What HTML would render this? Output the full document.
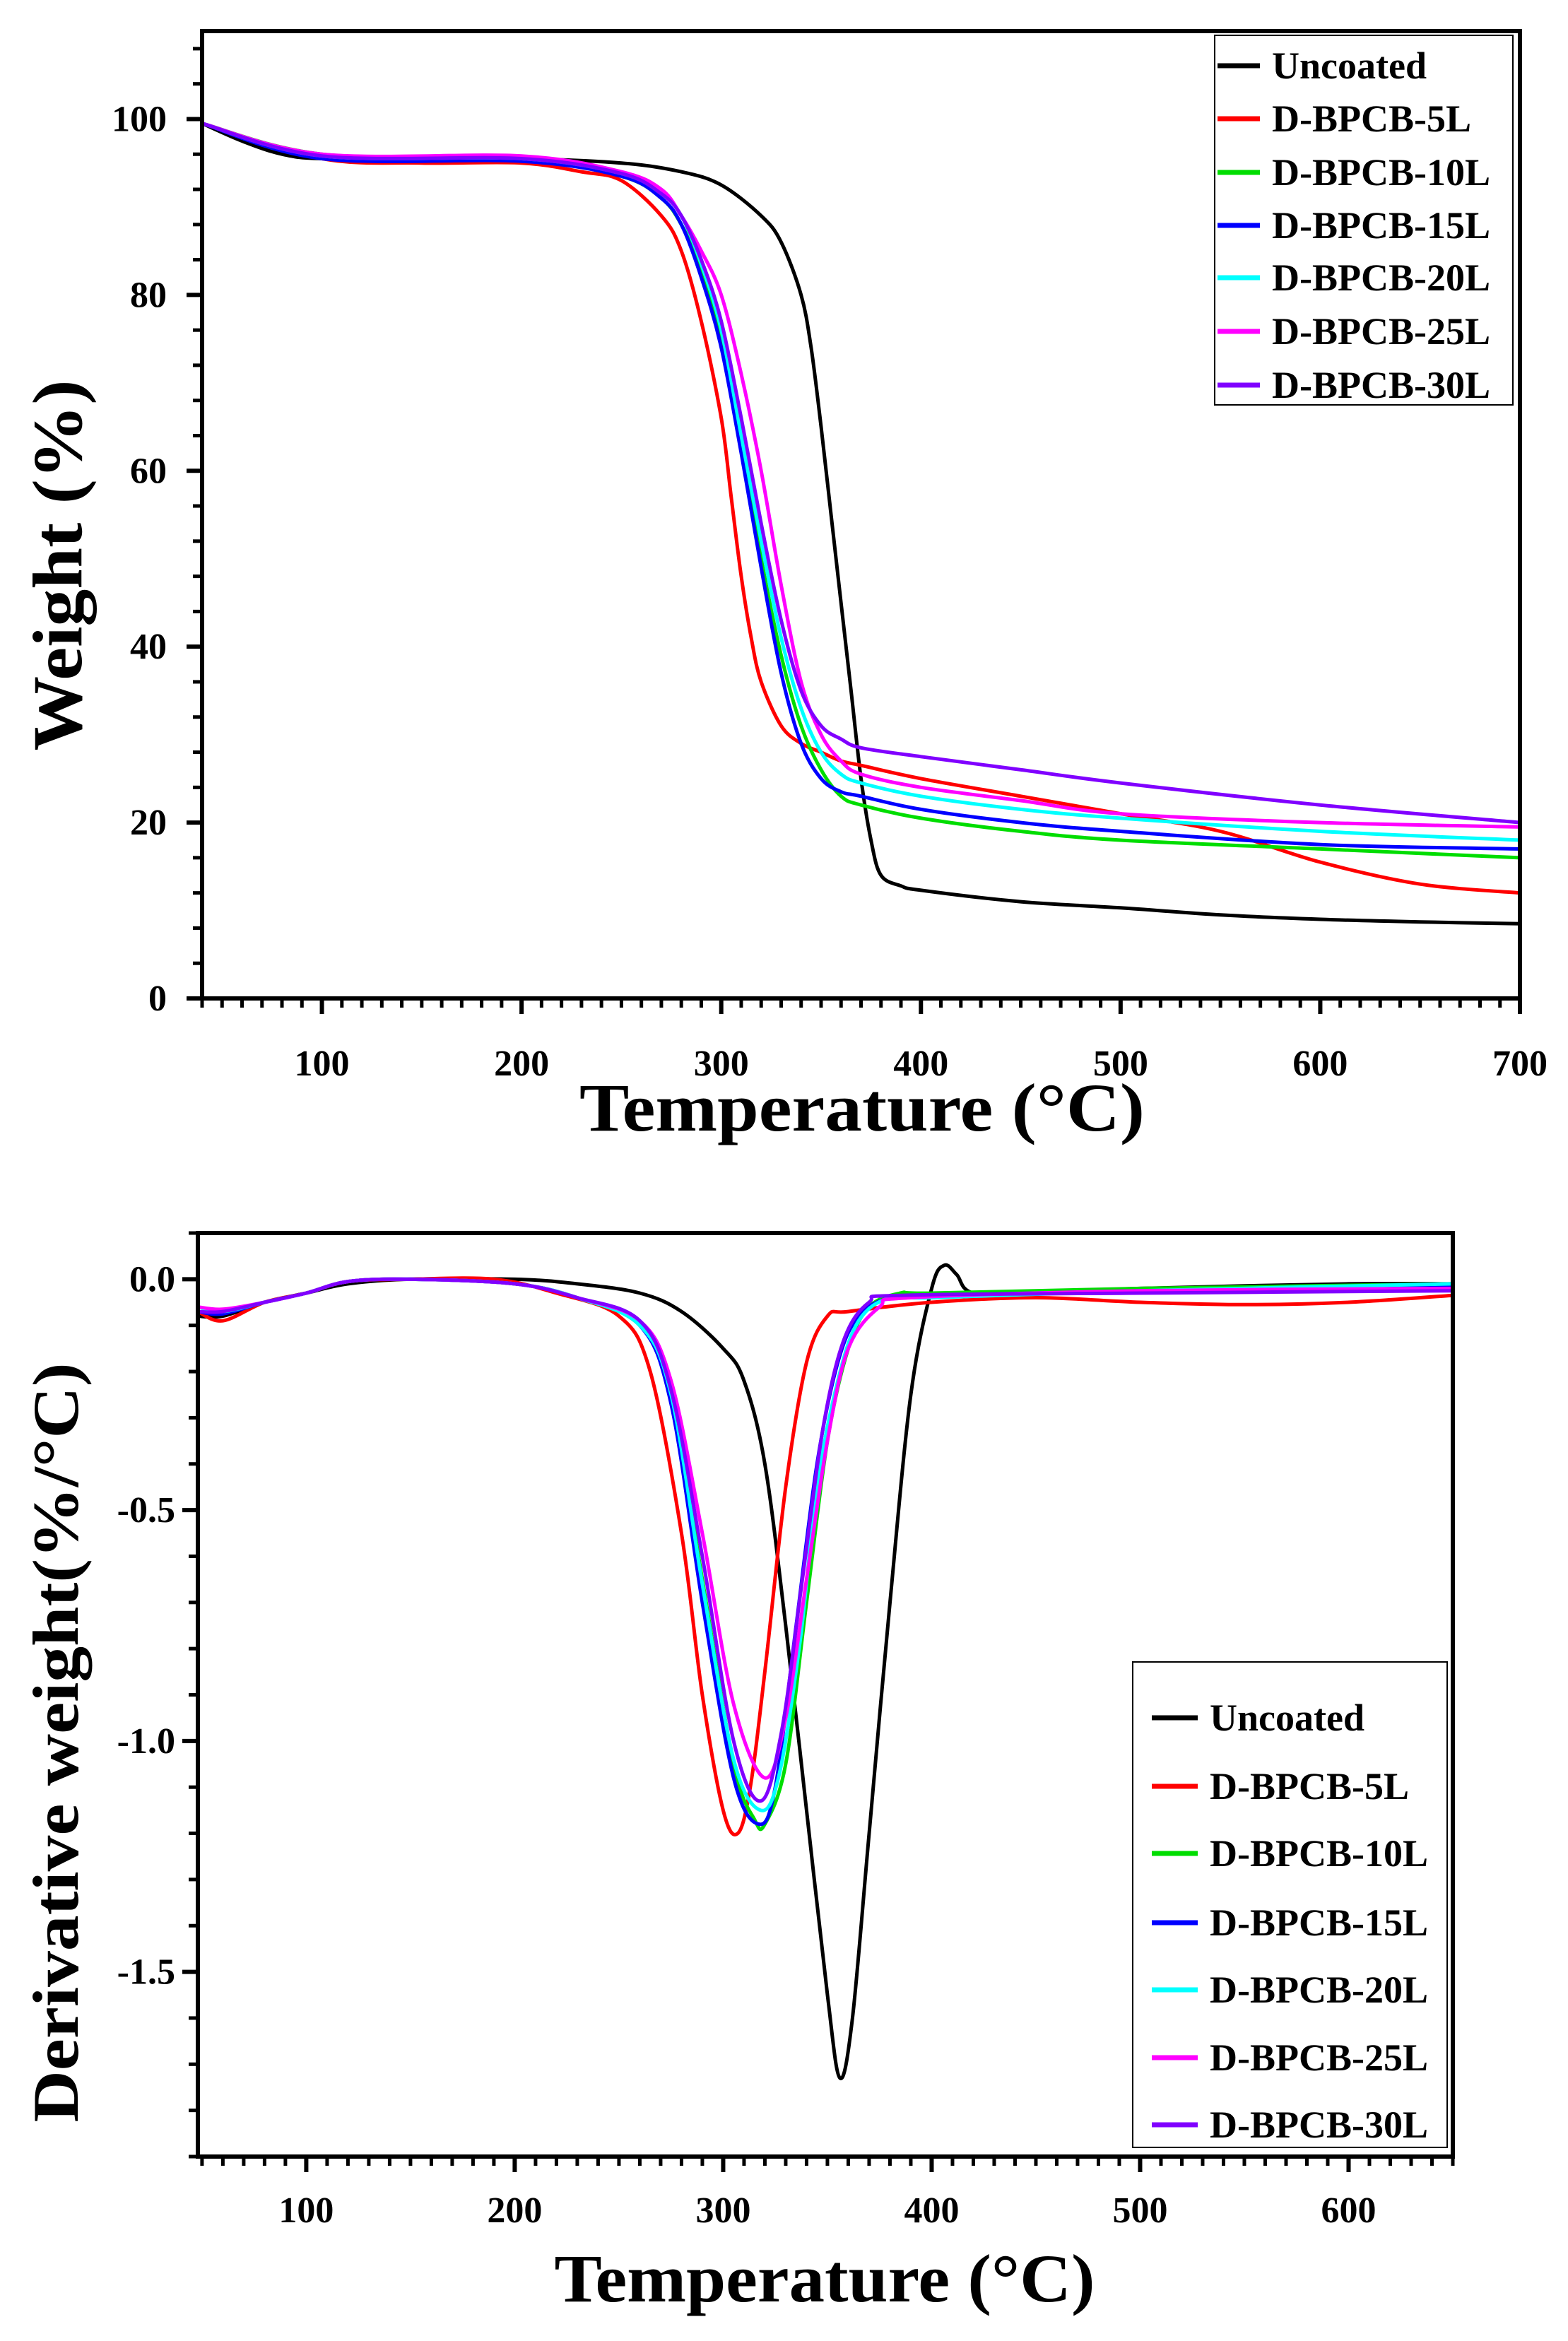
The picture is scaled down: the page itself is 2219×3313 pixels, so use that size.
<!DOCTYPE html>
<html><head><meta charset="utf-8"><style>
html,body{margin:0;padding:0;background:#fff}
svg{display:block}
text{font-family:"Liberation Serif",serif;font-weight:bold;fill:#000}
</style></head><body>
<svg id="svg" width="2219" height="3313" viewBox="0 0 2219 3313" xmlns="http://www.w3.org/2000/svg">
<rect width="2219" height="3313" fill="#fff"/>
<g id="top"></g>
<g id="bot"></g>
</svg>
<script>
const seriesNames = ["Uncoated","D-BPCB-5L","D-BPCB-10L","D-BPCB-15L","D-BPCB-20L","D-BPCB-25L","D-BPCB-30L"];
const seriesColors = ["#000000","#ff0000","#00dd00","#0000ff","#00ffff","#ff00ff","#8000ff"];
// TGA data: [temperature, weight %]
const tgaUncoated = [[40,99.5],[60,97.5],[80,96],[100,95.5],[150,95.5],[200,95.5],[250,95],[280,94],[300,92.5],[320,89],[330,86],[340,80],[345,74],[350,65],[355,55],[360,45],[365,35],[370,25],[375,18],[380,14],[390,12.8],[400,12.3],[450,11],[500,10.3],[550,9.5],[600,9],[650,8.7],[700,8.5]];
const tga5L = [[40,99.5],[100,95.5],[150,95],[200,95],[230,94],[250,93],[270,89],[280,85],[290,77],[300,66],[305,57],[310,48],[315,41],[320,36],[330,31],[340,29],[350,28],[360,27],[370,26.5],[400,25],[450,23],[500,21],[550,19],[600,15.5],[650,13],[700,12]];
const tga10L = [[40,99.5],[100,96],[200,95.5],[250,93.5],[270,91],[280,88],[290,83],[300,75],[310,63],[320,50],[330,39],[340,31],[350,26],[360,23],[370,22],[400,20.5],[450,19],[500,18],[600,17],[700,16]];
const tga15L = [[40,99.5],[100,95.5],[200,95.2],[250,93.5],[270,91],[280,88],[290,82],[300,74],[310,62],[320,49],[330,37],[340,29],[350,25],[360,23.5],[370,23],[400,21.5],[450,20],[500,19],[600,17.5],[700,17]];
const tga20L = [[40,99.5],[100,95.8],[200,95.5],[250,93.8],[270,91.5],[280,89],[290,83.5],[300,76],[310,64],[320,52],[330,41],[340,33],[350,28],[360,25.5],[370,24.5],[400,23],[450,21.5],[500,20.5],[600,19],[700,18]];
const tga25L = [[40,99.5],[100,96],[200,95.8],[250,94],[270,92],[280,89],[290,85],[300,80],[310,71],[320,60],[330,47],[340,36],[350,30],[360,27],[370,25.5],[400,24],[450,22.5],[500,21],[600,20],[700,19.5]];
const tga30L = [[40,99.5],[100,95.8],[200,95.5],[250,93.8],[270,91.5],[280,89],[290,84],[300,77],[310,66],[320,54],[330,43],[340,35],[350,31],[360,29.5],[370,28.5],[400,27.5],[450,26],[500,24.5],[600,22],[700,20]];
// DTG data: [temperature, derivative weight]
const dtgUncoated = [[48,-0.08],[60,-0.08],[80,-0.05],[100,-0.03],[120,-0.01],[150,0],[200,0],[230,-0.01],[260,-0.03],[280,-0.07],[300,-0.15],[310,-0.22],[320,-0.4],[330,-0.75],[340,-1.15],[350,-1.55],[356,-1.73],[362,-1.6],[370,-1.2],[380,-0.7],[390,-0.25],[400,-0.02],[406,0.03],[412,0.01],[420,-0.03],[450,-0.03],[500,-0.02],[600,-0.01],[650,-0.01]];
const dtg5L = [[48,-0.07],[60,-0.09],[80,-0.05],[100,-0.03],[120,-0.005],[150,0],[190,0],[220,-0.03],[250,-0.08],[265,-0.2],[280,-0.55],[290,-0.9],[300,-1.15],[307,-1.2],[313,-1.1],[320,-0.85],[330,-0.45],[340,-0.18],[350,-0.08],[360,-0.07],[400,-0.05],[450,-0.04],[500,-0.05],[550,-0.055],[600,-0.05],[650,-0.035]];
const dtg10L = [[48,-0.06],[60,-0.07],[80,-0.05],[100,-0.03],[120,-0.005],[150,0],[200,-0.01],[230,-0.04],[260,-0.1],[275,-0.25],[290,-0.65],[305,-1.05],[315,-1.17],[320,-1.18],[330,-1.05],[340,-0.7],[350,-0.35],[360,-0.15],[370,-0.06],[385,-0.03],[400,-0.03],[500,-0.02],[650,-0.01]];
const dtg15L = [[48,-0.07],[60,-0.075],[80,-0.05],[100,-0.03],[120,-0.005],[150,0],[200,-0.01],[230,-0.04],[260,-0.1],[275,-0.27],[290,-0.7],[305,-1.08],[317,-1.18],[325,-1.1],[335,-0.75],[345,-0.4],[355,-0.18],[365,-0.08],[380,-0.04],[400,-0.035],[500,-0.025],[650,-0.015]];
const dtg20L = [[48,-0.06],[60,-0.07],[80,-0.05],[100,-0.03],[120,-0.005],[150,0],[200,-0.01],[230,-0.04],[260,-0.1],[275,-0.25],[290,-0.66],[305,-1.04],[318,-1.15],[327,-1.07],[337,-0.78],[345,-0.45],[355,-0.22],[365,-0.09],[380,-0.04],[400,-0.04],[500,-0.025],[650,-0.01]];
const dtg25L = [[48,-0.06],[60,-0.065],[80,-0.05],[100,-0.03],[120,-0.005],[150,0],[200,-0.01],[230,-0.04],[260,-0.09],[275,-0.22],[290,-0.55],[305,-0.92],[320,-1.08],[330,-0.95],[340,-0.65],[350,-0.35],[360,-0.15],[375,-0.06],[390,-0.04],[500,-0.025],[650,-0.02]];
const dtg30L = [[48,-0.07],[60,-0.07],[80,-0.05],[100,-0.03],[120,-0.005],[150,0],[200,-0.01],[230,-0.04],[260,-0.09],[275,-0.24],[290,-0.6],[305,-1.0],[318,-1.13],[328,-0.98],[338,-0.65],[348,-0.32],[358,-0.13],[370,-0.05],[385,-0.035],[500,-0.03],[650,-0.025]];
const tgaSeries = [tgaUncoated,tga5L,tga10L,tga15L,tga20L,tga25L,tga30L];
const dtgSeries = [dtgUncoated,dtg5L,dtg10L,dtg15L,dtg20L,dtg25L,dtg30L];
const tgaXTicks = [100,200,300,400,500,600,700];
const tgaYTicks = [0,20,40,60,80,100];
const dtgXTicks = [100,200,300,400,500,600];
const dtgYTicks = [0,-0.5,-1.0,-1.5];
const dtgYLabels = ["0.0","-0.5","-1.0","-1.5"];

const NS="http://www.w3.org/2000/svg";
function mk(parent,tag,attrs,text){const e=document.createElementNS(NS,tag);for(const k in attrs)e.setAttribute(k,attrs[k]);if(text!==undefined)e.textContent=text;parent.appendChild(e);return e;}
function smooth(pts){let d="M"+pts[0][0].toFixed(1)+","+pts[0][1].toFixed(1);
 for(let i=0;i<pts.length-1;i++){const p0=pts[Math.max(0,i-1)],p1=pts[i],p2=pts[i+1],p3=pts[Math.min(pts.length-1,i+2)];
  const c1=[p1[0]+(p2[0]-p0[0])/6,p1[1]+(p2[1]-p0[1])/6],c2=[p2[0]-(p3[0]-p1[0])/6,p2[1]-(p3[1]-p1[1])/6];
  d+=" C"+c1[0].toFixed(1)+","+c1[1].toFixed(1)+" "+c2[0].toFixed(1)+","+c2[1].toFixed(1)+" "+p2[0].toFixed(1)+","+p2[1].toFixed(1);}
 return d;}

function chart(g,cfg){
 const sx=v=>cfg.L+(v-cfg.x0)/(cfg.x1-cfg.x0)*(cfg.R-cfg.L);
 const sy=v=>cfg.B-(v-cfg.y0)/(cfg.y1-cfg.y0)*(cfg.B-cfg.T);
 const clip="clip"+cfg.id;
 const defs=mk(g,"defs",{});const cp=mk(defs,"clipPath",{id:clip});mk(cp,"rect",{x:cfg.L,y:cfg.T,width:cfg.R-cfg.L,height:cfg.B-cfg.T});
 const xt=mk(g,"g",{});
 
 
 for(let v=Math.ceil(cfg.x0/10)*10;v<=cfg.x1+0.01;v+=10){const maj=v%100===0;const x=sx(v);
  mk(xt,"line",{x1:x,x2:x,y1:cfg.B,y2:cfg.B+(maj?22:13),stroke:"#000","stroke-width":maj?6:5});}
 for(const v of cfg.xTicks){const t=mk(xt,"text",{x:sx(v),y:cfg.xLabY,"text-anchor":"middle","font-size":52},String(v));
  
  }
 const yt=mk(g,"g",{});
 
 
 for(let k=Math.ceil(cfg.y0/cfg.ym-1e-6);k*cfg.ym<=cfg.y1+1e-6;k++){const v=k*cfg.ym;const maj=Math.abs(Math.round(v/cfg.yM)*cfg.yM-v)<1e-6;const y=sy(v);
  mk(yt,"line",{x1:cfg.L,x2:cfg.L-(maj?22:13),y1:y,y2:y,stroke:"#000","stroke-width":maj?6:5});}
 cfg.yTicks.forEach((v,i)=>{const t=mk(yt,"text",{x:cfg.yLabX,y:sy(v)+17,"text-anchor":"end","font-size":52},cfg.yLabels[i]);
  
  });
 const sg=mk(g,"g",{"clip-path":"url(#"+clip+")"});
 cfg.series.forEach((s,i)=>{const p=mk(sg,"path",{d:smooth(s.map(q=>[sx(q[0]),sy(q[1])])),fill:"none",stroke:seriesColors[i],"stroke-width":5,"stroke-linejoin":"round"});
  
  });
 const fr=mk(g,"rect",{x:cfg.L,y:cfg.T,width:cfg.R-cfg.L,height:cfg.B-cfg.T,fill:"none",stroke:"#000","stroke-width":6});
 
 
 const xtit=mk(g,"text",{x:cfg.xTitX,y:cfg.xTitY,"text-anchor":"middle","font-size":96,textLength:cfg.xTitLen,lengthAdjust:"spacingAndGlyphs"},"Temperature (°C)");
 
 
 const ytit=mk(g,"text",{x:0,y:0,"text-anchor":"middle","font-size":cfg.yTitSize,textLength:cfg.yTitLen,lengthAdjust:"spacingAndGlyphs",transform:"translate("+cfg.yTitX+","+cfg.yTitY+") rotate(-90)"},cfg.yTitle);
 
 
 const lg=mk(g,"g",{});
 
 
 const lb=cfg.leg;
 mk(lg,"rect",{x:lb.x,y:lb.y,width:lb.w,height:lb.h,fill:"#fff",stroke:"#000","stroke-width":2});
 seriesNames.forEach((n,i)=>{const y=lb.rows[i];const e=mk(lg,"g",{});
  
  
  mk(e,"line",{x1:lb.lx1,x2:lb.lx2,y1:y,y2:y,stroke:seriesColors[i],"stroke-width":7});
  mk(e,"text",{x:lb.tx,y:y+18,"font-size":54},n);});
}

chart(document.getElementById("top"),{id:"t",L:286,R:2151,T:44,B:1413,x0:40,x1:700,y0:0,y1:110,ym:4,yM:20,
 xTicks:tgaXTicks,yTicks:tgaYTicks,yLabels:tgaYTicks.map(String),series:tgaSeries,xLabY:1522,yLabX:236,
 xTitX:1220,xTitY:1600,xTitLen:800,yTitle:"Weight (%)",yTitX:115,yTitY:800,yTitLen:525,yTitSize:100,
 leg:{x:1719,y:50,w:422,h:523,rows:[93,168,244,319,393,469,545],lx1:1723,lx2:1783,tx:1800}});
chart(document.getElementById("bot"),{id:"b",L:280,R:2056,T:1745,B:3052,x0:48,x1:650,y0:-1.9,y1:0.1,ym:0.1,yM:0.5,
 xTicks:dtgXTicks,yTicks:dtgYTicks,yLabels:dtgYLabels,series:dtgSeries,xLabY:3145,yLabX:248,
 xTitX:1167,xTitY:3257,xTitLen:765,yTitle:"Derivative weight(%/°C)",yTitX:110,yTitY:2466,yTitLen:1075,yTitSize:92,
 leg:{x:1603,y:2352,w:445,h:687,rows:[2431,2528,2623,2721,2816,2912,3007],lx1:1630,lx2:1695,tx:1712}});
</script>
</body></html>
